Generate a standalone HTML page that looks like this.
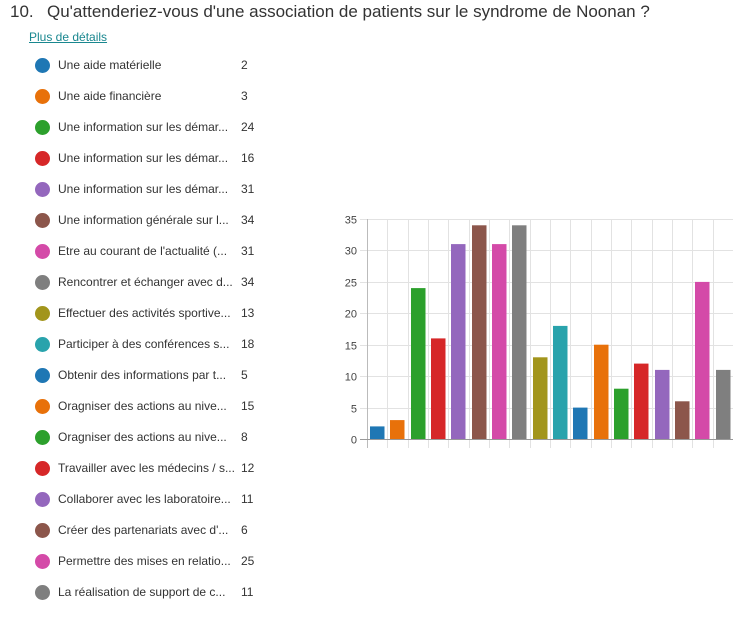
<!DOCTYPE html>
<html><head><meta charset="utf-8"><style>
body{margin:0;width:747px;height:618px;background:#fff;position:relative;overflow:hidden;font-family:"Liberation Sans",sans-serif;}
.t{position:absolute;white-space:nowrap;}
.title{font-size:17px;color:#333;top:2px;}
.link{left:29px;top:30px;font-size:12px;color:#19878f;text-decoration:underline;}
.dot{position:absolute;left:35px;width:15px;height:15px;border-radius:50%;}
.lab{left:58px;font-size:12px;color:#333;}
.num{left:241px;font-size:12px;color:#333;}
</style></head><body>
<div class="t title" style="left:10px">10.</div>
<div class="t title" style="left:47px">Qu'attenderiez-vous d'une association de patients sur le syndrome de Noonan ?</div>
<div class="t link">Plus de détails</div>

<div class="dot" style="top:58px;background:#1f77b4"></div><div class="t lab" style="top:58px">Une aide matérielle</div><div class="t num" style="top:58px">2</div>
<div class="dot" style="top:89px;background:#e8710a"></div><div class="t lab" style="top:89px">Une aide financière</div><div class="t num" style="top:89px">3</div>
<div class="dot" style="top:120px;background:#2ca02c"></div><div class="t lab" style="top:120px">Une information sur les démar...</div><div class="t num" style="top:120px">24</div>
<div class="dot" style="top:151px;background:#d62728"></div><div class="t lab" style="top:151px">Une information sur les démar...</div><div class="t num" style="top:151px">16</div>
<div class="dot" style="top:182px;background:#9467bd"></div><div class="t lab" style="top:182px">Une information sur les démar...</div><div class="t num" style="top:182px">31</div>
<div class="dot" style="top:213px;background:#8c564b"></div><div class="t lab" style="top:213px">Une information générale sur l...</div><div class="t num" style="top:213px">34</div>
<div class="dot" style="top:244px;background:#d44aa8"></div><div class="t lab" style="top:244px">Etre au courant de l'actualité (...</div><div class="t num" style="top:244px">31</div>
<div class="dot" style="top:275px;background:#7f7f7f"></div><div class="t lab" style="top:275px">Rencontrer et échanger avec d...</div><div class="t num" style="top:275px">34</div>
<div class="dot" style="top:306px;background:#a2951c"></div><div class="t lab" style="top:306px">Effectuer des activités sportive...</div><div class="t num" style="top:306px">13</div>
<div class="dot" style="top:337px;background:#29a3ac"></div><div class="t lab" style="top:337px">Participer à des conférences s...</div><div class="t num" style="top:337px">18</div>
<div class="dot" style="top:368px;background:#1f77b4"></div><div class="t lab" style="top:368px">Obtenir des informations par t...</div><div class="t num" style="top:368px">5</div>
<div class="dot" style="top:399px;background:#e8710a"></div><div class="t lab" style="top:399px">Oragniser des actions au nive...</div><div class="t num" style="top:399px">15</div>
<div class="dot" style="top:430px;background:#2ca02c"></div><div class="t lab" style="top:430px">Oragniser des actions au nive...</div><div class="t num" style="top:430px">8</div>
<div class="dot" style="top:461px;background:#d62728"></div><div class="t lab" style="top:461px">Travailler avec les médecins / s...</div><div class="t num" style="top:461px">12</div>
<div class="dot" style="top:492px;background:#9467bd"></div><div class="t lab" style="top:492px">Collaborer avec les laboratoire...</div><div class="t num" style="top:492px">11</div>
<div class="dot" style="top:523px;background:#8c564b"></div><div class="t lab" style="top:523px">Créer des partenariats avec d'...</div><div class="t num" style="top:523px">6</div>
<div class="dot" style="top:554px;background:#d44aa8"></div><div class="t lab" style="top:554px">Permettre des mises en relatio...</div><div class="t num" style="top:554px">25</div>
<div class="dot" style="top:585px;background:#7f7f7f"></div><div class="t lab" style="top:585px">La réalisation de support de c...</div><div class="t num" style="top:585px">11</div>

<svg style="position:absolute;left:0;top:0" width="747" height="618" xmlns="http://www.w3.org/2000/svg">
<g stroke="#e2e2e2" stroke-width="1">
<line x1="360" y1="219.5" x2="733" y2="219.5"/>
<line x1="360" y1="250.5" x2="733" y2="250.5"/>
<line x1="360" y1="282.5" x2="733" y2="282.5"/>
<line x1="360" y1="313.5" x2="733" y2="313.5"/>
<line x1="360" y1="345.5" x2="733" y2="345.5"/>
<line x1="360" y1="376.5" x2="733" y2="376.5"/>
<line x1="360" y1="408.5" x2="733" y2="408.5"/>
</g>
<g stroke="#e2e2e2" stroke-width="1">
<line x1="387.5" y1="219" x2="387.5" y2="448"/>
<line x1="408.5" y1="219" x2="408.5" y2="448"/>
<line x1="428.5" y1="219" x2="428.5" y2="448"/>
<line x1="448.5" y1="219" x2="448.5" y2="448"/>
<line x1="469.5" y1="219" x2="469.5" y2="448"/>
<line x1="489.5" y1="219" x2="489.5" y2="448"/>
<line x1="509.5" y1="219" x2="509.5" y2="448"/>
<line x1="530.5" y1="219" x2="530.5" y2="448"/>
<line x1="550.5" y1="219" x2="550.5" y2="448"/>
<line x1="570.5" y1="219" x2="570.5" y2="448"/>
<line x1="591.5" y1="219" x2="591.5" y2="448"/>
<line x1="611.5" y1="219" x2="611.5" y2="448"/>
<line x1="631.5" y1="219" x2="631.5" y2="448"/>
<line x1="652.5" y1="219" x2="652.5" y2="448"/>
<line x1="672.5" y1="219" x2="672.5" y2="448"/>
<line x1="692.5" y1="219" x2="692.5" y2="448"/>
<line x1="713.5" y1="219" x2="713.5" y2="448"/>
</g>
<line x1="367.5" y1="219" x2="367.5" y2="448" stroke="#bbb"/>
<g id="bars">
<rect x="370" y="426.4" width="14" height="12.6" fill="#1f77b4"/><rect x="384" y="426.4" width="1" height="12.6" fill="#1f77b4" opacity=".5"/>
<rect x="390" y="420.1" width="14" height="18.9" fill="#e8710a"/><rect x="404" y="420.1" width="1" height="18.9" fill="#e8710a" opacity=".5"/>
<rect x="411" y="288.1" width="14" height="150.9" fill="#2ca02c"/><rect x="425" y="288.1" width="1" height="150.9" fill="#2ca02c" opacity=".5"/>
<rect x="431" y="338.4" width="14" height="100.6" fill="#d62728"/><rect x="445" y="338.4" width="1" height="100.6" fill="#d62728" opacity=".5"/>
<rect x="451" y="244.1" width="14" height="194.9" fill="#9467bd"/><rect x="465" y="244.1" width="1" height="194.9" fill="#9467bd" opacity=".5"/>
<rect x="472" y="225.3" width="14" height="213.7" fill="#8c564b"/><rect x="486" y="225.3" width="1" height="213.7" fill="#8c564b" opacity=".5"/>
<rect x="492" y="244.1" width="14" height="194.9" fill="#d44aa8"/><rect x="506" y="244.1" width="1" height="194.9" fill="#d44aa8" opacity=".5"/>
<rect x="512" y="225.3" width="14" height="213.7" fill="#7f7f7f"/><rect x="526" y="225.3" width="1" height="213.7" fill="#7f7f7f" opacity=".5"/>
<rect x="533" y="357.3" width="14" height="81.7" fill="#a2951c"/><rect x="547" y="357.3" width="1" height="81.7" fill="#a2951c" opacity=".5"/>
<rect x="553" y="325.9" width="14" height="113.1" fill="#29a3ac"/><rect x="567" y="325.9" width="1" height="113.1" fill="#29a3ac" opacity=".5"/>
<rect x="573" y="407.6" width="14" height="31.4" fill="#1f77b4"/><rect x="587" y="407.6" width="1" height="31.4" fill="#1f77b4" opacity=".5"/>
<rect x="594" y="344.7" width="14" height="94.3" fill="#e8710a"/><rect x="608" y="344.7" width="1" height="94.3" fill="#e8710a" opacity=".5"/>
<rect x="614" y="388.7" width="14" height="50.3" fill="#2ca02c"/><rect x="628" y="388.7" width="1" height="50.3" fill="#2ca02c" opacity=".5"/>
<rect x="634" y="363.6" width="14" height="75.4" fill="#d62728"/><rect x="648" y="363.6" width="1" height="75.4" fill="#d62728" opacity=".5"/>
<rect x="655" y="369.9" width="14" height="69.1" fill="#9467bd"/><rect x="669" y="369.9" width="1" height="69.1" fill="#9467bd" opacity=".5"/>
<rect x="675" y="401.3" width="14" height="37.7" fill="#8c564b"/><rect x="689" y="401.3" width="1" height="37.7" fill="#8c564b" opacity=".5"/>
<rect x="695" y="281.9" width="14" height="157.1" fill="#d44aa8"/><rect x="709" y="281.9" width="1" height="157.1" fill="#d44aa8" opacity=".5"/>
<rect x="716" y="369.9" width="14" height="69.1" fill="#7f7f7f"/><rect x="730" y="369.9" width="1" height="69.1" fill="#7f7f7f" opacity=".5"/>
</g>
<line x1="360" y1="439.5" x2="733" y2="439.5" stroke="#999"/>
<g font-family="Liberation Sans, sans-serif" font-size="11" fill="#444" text-anchor="end">
<text x="357" y="223.5">35</text>
<text x="357" y="254.5">30</text>
<text x="357" y="286.5">25</text>
<text x="357" y="317.5">20</text>
<text x="357" y="349.5">15</text>
<text x="357" y="380.5">10</text>
<text x="357" y="412.5">5</text>
<text x="357" y="443.5">0</text>
</g>
</svg>
</body></html>
